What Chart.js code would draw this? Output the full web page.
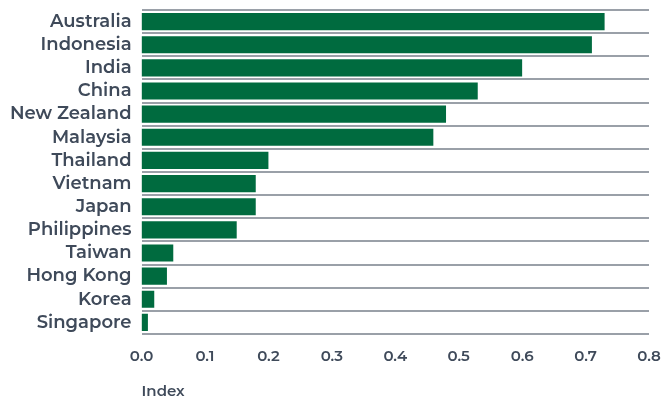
<!DOCTYPE html>
<html>
<head>
<meta charset="utf-8">
<script src="https://cdn.jsdelivr.net/npm/chart.js@4/dist/chart.umd.min.js"></script>
<style>
  html, body { margin: 0; padding: 0; background: #fff; }
  #wrap { width: 662px; height: 401px; }
</style>
</head>
<body>
<div id="wrap"><canvas id="chart"></canvas></div>
<script>
// Data
const countries = ['Australia', 'Indonesia', 'India', 'China', 'New Zealand', 'Malaysia', 'Thailand',
    'Vietnam', 'Japan', 'Philippines', 'Taiwan', 'Hong Kong', 'Korea', 'Singapore'];
const indexValues = [0.73, 0.71, 0.60, 0.53, 0.48, 0.46, 0.20, 0.18, 0.18, 0.15, 0.05, 0.04, 0.02, 0.01];
const xTicks = [0, 0.1, 0.2, 0.3, 0.4, 0.5, 0.6, 0.7, 0.8];

const textColor = '#3f4a5a';
const fontFamily = 'Montserrat, "Open Sans", sans-serif';

const ctx = document.getElementById('chart').getContext('2d');
new Chart(ctx, {
    type: 'bar',
    data: {
        labels: countries,
        datasets: [{
            data: indexValues,
            backgroundColor: '#006b3f',
            barPercentage: 0.74,
            categoryPercentage: 1.0
        }]
    },
    options: {
        indexAxis: 'y',
        responsive: true,
        maintainAspectRatio: false,
        animation: false,
        layout: { padding: { top: 10, right: 13, left: 0, bottom: 0 } },
        plugins: {
            legend: { display: false },
            tooltip: { enabled: false }
        },
        scales: {
            x: {
                min: 0,
                max: 0.8,
                afterBuildTicks: (axis) => { axis.ticks = xTicks.map(v => ({ value: v })); },
                afterFit: (scale) => { scale.paddingRight = 0; },
                grid: { display: false, drawTicks: false },
                border: { display: false },
                ticks: {
                    color: textColor,
                    padding: 14,
                    font: { family: fontFamily, size: 15, weight: '600' },
                    callback: (v) => Number(v).toFixed(1)
                },
                title: {
                    display: true,
                    text: 'Index',
                    align: 'start',
                    color: textColor,
                    padding: { top: 3, bottom: 0 },
                    font: { family: fontFamily, size: 15, weight: '600' }
                }
            },
            y: {
                // labels sit inside offset categories, so no extra room is needed above/below
                afterFit: (scale) => { scale.paddingTop = 0; scale.paddingBottom = 0; },
                grid: {
                    offset: true,
                    drawTicks: false,
                    lineWidth: 2,
                    color: (c) => c.index === countries.length ? '#4a5260' : '#9aa0a8'
                },
                border: { display: false },
                ticks: {
                    autoSkip: false,
                    color: textColor,
                    padding: 10,
                    font: { family: fontFamily, size: 18, weight: '600' }
                }
            }
        }
    }
});
</script>
</body>
</html>
